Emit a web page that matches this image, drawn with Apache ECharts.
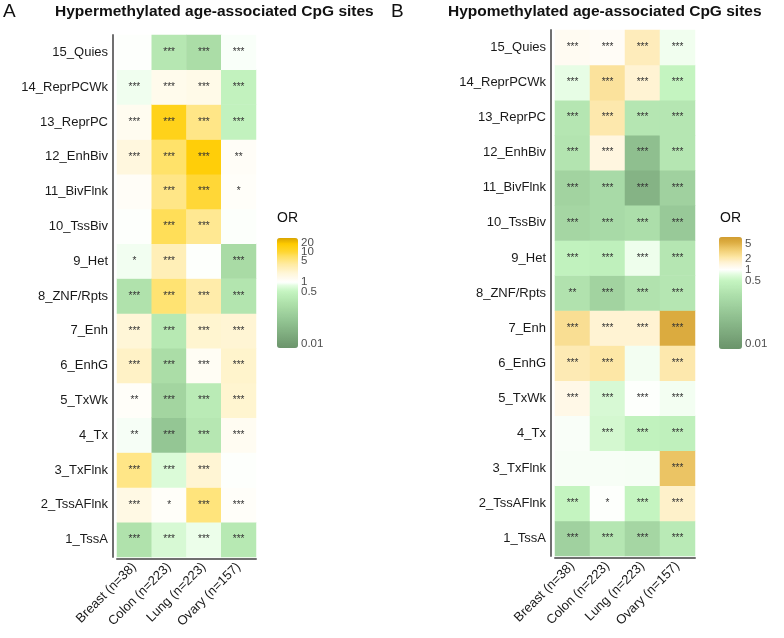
<!DOCTYPE html>
<html>
<head>
<meta charset="utf-8">
<title>Age-associated CpG sites</title>
<script src="https://cdn.jsdelivr.net/npm/echarts@6/dist/echarts.min.js"></script>
<style>
  html, body { margin: 0; padding: 0; background: #fff; }
  #chart { width: 784px; height: 638px; }
</style>
</head>
<body>
<div id="chart"></div>
<script>
// chromatin states, bottom row first
const states = ['1_TssA', '2_TssAFlnk', '3_TxFlnk', '4_Tx', '5_TxWk', '6_EnhG', '7_Enh', '8_ZNF/Rpts',
  '9_Het', '10_TssBiv', '11_BivFlnk', '12_EnhBiv', '13_ReprPC', '14_ReprPCWk', '15_Quies'];
const tissues = ['Breast (n=38)', 'Colon (n=223)', 'Lung (n=223)', 'Ovary (n=157)'];

// A - hypermethylated, odds ratio per tissue (1_TssA .. 15_Quies)
const hyperBreast = [0.22, 1.6, 5, 0.93, 1.1, 2.5, 2, 0.22, 0.9, 1, 1.15, 1.8, 1.3, 0.88, 1];
const hyperColon  = [0.65, 1.1, 0.7, 0.06, 0.12, 0.17, 0.3, 6, 3, 7.5, 5, 6.5, 13, 1.4, 0.28];
const hyperLung   = [0.85, 5.5, 2.1, 0.28, 0.33, 1.2, 2.2, 3.5, 1, 4.5, 9.5, 16, 5, 1.5, 0.17];
const hyperOvary  = [0.3, 1.1, 1, 1.25, 2.2, 2.3, 2.1, 0.25, 0.16, 0.97, 1.1, 1.15, 0.45, 0.45, 0.95];

const hyperBreastSig = ['***', '***', '***', '**', '**', '***', '***', '***', '*', '', '', '***', '***', '***', ''];
const hyperColonSig  = ['***', '*', '***', '***', '***', '***', '***', '***', '***', '***', '***', '***', '***', '***', '***'];
const hyperLungSig   = ['***', '***', '***', '***', '***', '***', '***', '***', '', '***', '***', '***', '***', '***', '***'];
const hyperOvarySig  = ['***', '***', '', '***', '***', '***', '***', '***', '***', '', '*', '**', '***', '***', '***'];

// B - hypomethylated
const hypoBreast = [0.11, 0.5, 0.93, 0.95, 1.3, 2, 2.6, 0.24, 0.45, 0.14, 0.12, 0.26, 0.28, 0.8, 1.15];
const hypoColon  = [0.28, 1, 0.93, 0.62, 0.65, 2.2, 1.6, 0.12, 0.42, 0.17, 0.17, 1.4, 2.1, 2.4, 1.1];
const hypoLung   = [0.14, 0.5, 0.92, 0.45, 1, 0.9, 1.6, 0.24, 0.85, 0.2, 0.03, 0.05, 0.28, 1.6, 1.9];
const hypoOvary  = [0.32, 1.7, 4, 0.42, 0.9, 2.1, 5.8, 0.28, 0.28, 0.08, 0.11, 0.28, 0.28, 0.5, 0.88];

const hypoBreastSig = ['***', '***', '', '', '***', '***', '***', '**', '***', '***', '***', '***', '***', '***', '***'];
const hypoColonSig  = ['***', '*', '', '***', '***', '***', '***', '***', '***', '***', '***', '***', '***', '***', '***'];
const hypoLungSig   = ['***', '***', '', '***', '***', '', '***', '***', '***', '***', '***', '***', '***', '***', '***'];
const hypoOvarySig  = ['***', '***', '***', '***', '***', '***', '***', '***', '***', '***', '***', '***', '***', '***', '***'];

// colour bar tick labels
const ticksA = [0.01, 0.5, 1, 5, 10, 20];
const ticksB = [0.01, 0.5, 1, 2, 5];

const font = 'Liberation Sans, Arial, Helvetica, sans-serif';
const textColor = '#1a1a1a';
const axisGrey = '#707070';

// log10 range of each colour bar
const minA = -2.15, maxA = 1.45;
const minB = -2.14, maxB = 0.89;

const stopsA = [
  [-2.15, '#6b946b'], [-1.3, '#90c290'], [-0.7, '#aee0aa'], [-0.3, '#c4f4c0'], [-0.1, '#e4fde2'],
  [0, '#ffffff'], [0.3, '#fff6d8'], [0.6, '#ffeaa0'], [0.85, '#ffe060'], [1.0, '#ffd630'],
  [1.25, '#ffcc00'], [1.45, '#d9a400']
];
const stopsB = [
  [-2.15, '#6a936a'], [-1.3, '#8fbf8f'], [-0.7, '#acdeaa'], [-0.3, '#c4f4c0'], [-0.1, '#e6fde3'],
  [0, '#ffffff'], [0.2, '#fff3d4'], [0.35, '#fde6a4'], [0.55, '#f0cc70'], [0.75, '#dcac40'],
  [0.9, '#d09c30']
];

function hex2rgb(h) {
  return [1, 3, 5].map(i => parseInt(h.substr(i, 2), 16));
}

// sample the stop list at evenly spaced values for visualMap
function ramp(stops, min, max, n) {
  const out = [];
  for (let i = 0; i < n; i++) {
    const t = min + (max - min) * i / (n - 1);
    let k = 0;
    while (k < stops.length - 2 && t > stops[k + 1][0]) k++;
    const f = Math.min(1, Math.max(0, (t - stops[k][0]) / (stops[k + 1][0] - stops[k][0])));
    const a = hex2rgb(stops[k][1]), b = hex2rgb(stops[k + 1][1]);
    out.push('rgb(' + a.map((v, j) => Math.round(v + (b[j] - v) * f)).join(',') + ')');
  }
  return out;
}

function toCells(cols) {
  const out = [];
  cols.forEach((col, x) => col.forEach((v, y) => out.push([x, y, Math.log10(v)])));
  return out;
}

function toSig(cols) {
  const out = [];
  cols.forEach(col => col.forEach(s => out.push(s)));
  return out;
}

const cellsA = toCells([hyperBreast, hyperColon, hyperLung, hyperOvary]);
const sigA = toSig([hyperBreastSig, hyperColonSig, hyperLungSig, hyperOvarySig]);
const cellsB = toCells([hypoBreast, hypoColon, hypoLung, hypoOvary]);
const sigB = toSig([hypoBreastSig, hypoColonSig, hypoLungSig, hypoOvarySig]);

function xCat(gridIndex) {
  return {
    type: 'category', gridIndex: gridIndex, data: tissues, offset: 2,
    axisLine: { lineStyle: { color: axisGrey, width: 2 } },
    axisTick: { alignWithLabel: true, length: 3, lineStyle: { color: axisGrey } },
    axisLabel: { rotate: 45, margin: 6, fontSize: 13, color: textColor, fontFamily: font, interval: 0 },
    splitLine: { show: false }
  };
}

function yCat(gridIndex) {
  return {
    type: 'category', gridIndex: gridIndex, data: states, offset: 4,
    axisLine: { lineStyle: { color: axisGrey, width: 2 } },
    axisTick: { alignWithLabel: true, length: 3, lineStyle: { color: axisGrey } },
    axisLabel: { margin: 5, fontSize: 13, color: textColor, fontFamily: font, interval: 0 },
    splitLine: { show: false }
  };
}

// invisible axes for the colour bar, ticks drawn white inside the bar
function legendX(gridIndex) {
  return { type: 'value', gridIndex: gridIndex, min: 0, max: 1, show: false };
}

function legendY(gridIndex, ticks, min, max) {
  const vals = ticks.map(Math.log10);
  return {
    type: 'value', gridIndex: gridIndex, min: min, max: max, position: 'right', z: 10,
    axisLine: { show: false },
    splitLine: { show: false },
    axisTick: { show: true, inside: true, length: 4, customValues: vals, lineStyle: { color: '#ffffff', width: 1 } },
    axisLabel: { show: false }
  };
}

// colour bar labels as a scatter of the tick values
function legendLabels(i, ticks) {
  return {
    type: 'scatter', xAxisIndex: i, yAxisIndex: i, symbolSize: 0, silent: true,
    data: ticks.map(t => [1, Math.log10(t), t]),
    label: {
      show: true, position: 'right', distance: 3, fontSize: 11.5, color: textColor, fontFamily: font,
      formatter: p => String(p.value[2])
    },
    labelLayout: { hideOverlap: false }
  };
}

function heat(i, data, sig) {
  return {
    type: 'heatmap', xAxisIndex: i, yAxisIndex: i, data: data,
    emphasis: { disabled: true },
    label: {
      show: true, fontSize: 10, color: '#333', fontFamily: font,
      formatter: p => sig[p.dataIndex]
    }
  };
}

const titleStyle = { fontSize: 15.5, fontWeight: 'bold', color: '#111', fontFamily: font };
const letterStyle = { fontSize: 19, fontWeight: 'normal', color: '#111', fontFamily: font };
const orStyle = { fontSize: 14, fontWeight: 'normal', color: '#111', fontFamily: font };

const chart = echarts.init(document.getElementById('chart'));
chart.setOption({
  animation: false,
  title: [
    { text: 'A', left: 3, top: 2, padding: 0, textStyle: letterStyle },
    { text: 'Hypermethylated age-associated CpG sites', left: 55, top: 4, padding: 0, textStyle: titleStyle },
    { text: 'B', left: 391, top: 2, padding: 0, textStyle: letterStyle },
    { text: 'Hypomethylated age-associated CpG sites', left: 448, top: 4, padding: 0, textStyle: titleStyle },
    { text: 'OR', left: 277, top: 211, padding: 0, textStyle: orStyle },
    { text: 'OR', left: 720, top: 211, padding: 0, textStyle: orStyle }
  ],
  grid: [
    { left: 117, top: 35, width: 139, height: 522 },
    { left: 555, top: 30, width: 140, height: 526 },
    { left: 277, top: 238, width: 21, height: 110 },
    { left: 719, top: 237, width: 23, height: 112 }
  ],
  xAxis: [xCat(0), xCat(1), legendX(2), legendX(3)],
  yAxis: [
    yCat(0), yCat(1),
    legendY(2, ticksA, minA, maxA),
    legendY(3, ticksB, minB, maxB)
  ],
  visualMap: [
    {
      type: 'continuous', seriesIndex: 0, dimension: 2, min: minA, max: maxA, z: 1,
      calculable: false, hoverLink: false, showLabel: false, padding: 0,
      left: 277, top: 238, itemWidth: 21, itemHeight: 110,
      inRange: { color: ramp(stopsA, minA, maxA, 80) }
    },
    {
      type: 'continuous', seriesIndex: 1, dimension: 2, min: minB, max: maxB, z: 1,
      calculable: false, hoverLink: false, showLabel: false, padding: 0,
      left: 719, top: 237, itemWidth: 23, itemHeight: 112,
      inRange: { color: ramp(stopsB, minB, maxB, 80) }
    }
  ],
  series: [
    heat(0, cellsA, sigA),
    heat(1, cellsB, sigB),
    legendLabels(2, ticksA),
    legendLabels(3, ticksB)
  ]
});
</script>
</body>
</html>
